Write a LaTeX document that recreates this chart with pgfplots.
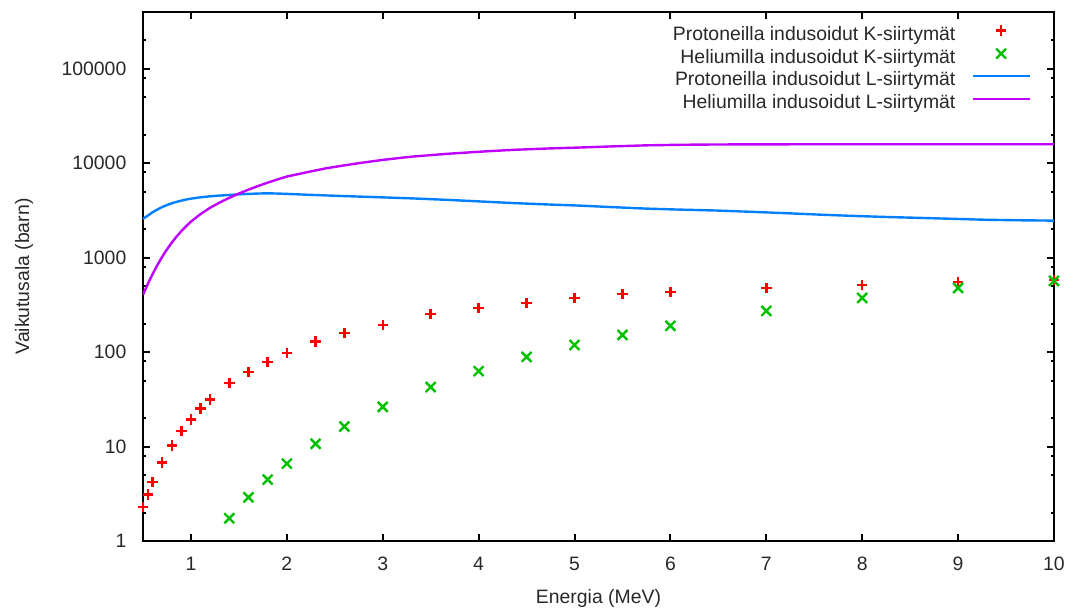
\documentclass[border=0pt]{standalone}
\usepackage{fontspec}
\setmainfont{Liberation Sans}
\usepackage{pgfplots}
\pgfplotsset{compat=1.18}
\definecolor{gpred}{RGB}{255,0,0}
\definecolor{gpgreen}{RGB}{0,192,0}
\definecolor{gpblue}{RGB}{0,128,255}
\definecolor{gppurple}{RGB}{192,0,255}
\definecolor{txt}{RGB}{40,40,40}
\pgfplotsset{
  markleg/.style={legend image code/.code={\draw[mark repeat=2,mark phase=2,##1] plot coordinates {(0pt,2.5pt) (14.25pt,2.5pt) (28.5pt,2.5pt)};}},
  lineleg/.style={legend image code/.code={\draw[##1] (0pt,2.5pt) -- (28.5pt,2.5pt);}},
}
\begin{document}
\fontsize{9.7}{11.6}\selectfont
\begin{tikzpicture}
\useasboundingbox (-71.5pt,-34pt) rectangle (461pt,270.5pt);
\begin{axis}[
  at={(0,0)}, anchor=south west,
  scale only axis, width=455.5pt, height=264.5pt,
  ymode=log, xmin=0.5, xmax=10, ymin=1, ymax=400000,
  xtick={1,2,3,4,5,6,7,8,9,10},
  xticklabels={1,2,3,4,5,6,7,8,9,10},
  ytick={1,10,100,1000,10000,100000},
  yticklabels={1,10,100,1000,10000,100000},
  minor ytick={2,5,8,20,50,80,200,500,800,2000,5000,8000,20000,50000,80000,200000},
  /pgf/number format/assume math mode=true,
  tick align=inside,
  major tick length=3.4pt, minor tick length=1.7pt,
  every tick/.style={black, line width=1pt},
  axis line style={black, line width=1pt},
  tick label style={font=\fontsize{9.7}{11.6}\selectfont, text=txt},
  xticklabel style={yshift=-4.6pt},
  yticklabel style={xshift=-4.9pt},
  xlabel={Energia (MeV)},
  ylabel={Vaikutusala (barn)},
  label style={font=\fontsize{9.7}{11.6}\selectfont, text=txt},
  xlabel style={at={(axis description cs:0.5,-0.1191)}, anchor=base},
  ylabel style={at={(axis description cs:-0.1251,0.5)}, anchor=base},
  legend plot pos=right,
  legend cell align=right,
  legend style={draw=none, fill=none, at={(axis description cs:0.975,0.9755)}, anchor=north east,
    inner sep=0pt, column sep=8pt, row sep=1.8pt,
    nodes={inner sep=0pt, text height=7pt, text depth=2.5pt, text=txt, font=\fontsize{9.7}{11.6}\selectfont}},
]
\addplot[only marks, mark=+, mark size=2.6pt, gpred, line width=1.2pt, markleg]
  coordinates {
  (0.5,2.3) (0.55,3.1) (0.6,4.2) (0.7,6.8) (0.8,10.3) (0.9,14.7) (1.0,19.4)
  (1.1,25.2) (1.2,31.5) (1.4,46.8) (1.6,62) (1.8,79) (2.0,98) (2.3,129)
  (2.6,159) (3.0,194) (3.5,254) (4.0,295) (4.5,332) (5.0,375) (5.5,414)
  (6.0,435) (7.0,478) (8.0,515) (9.0,550) (10,582)
  };
\addlegendentry{Protoneilla indusoidut K-siirtymät}
\addplot[only marks, mark=x, mark size=3.5pt, gpgreen, line width=1.2pt, markleg]
  coordinates {
  (1.4,1.74) (1.6,2.9) (1.8,4.47) (2.0,6.6) (2.3,10.7) (2.6,16.3) (3.0,26.3)
  (3.5,42.7) (4.0,63) (4.5,89) (5.0,119) (5.5,152) (6.0,190) (7.0,273)
  (8.0,375) (9.0,478) (10,568)
  };
\addlegendentry{Heliumilla indusoidut K-siirtymät}
\addplot[gpblue, line width=1.2pt, lineleg] coordinates {
  (0.5,2580) (0.55,2790) (0.6,3030) (0.65,3240) (0.7,3440) (0.75,3610) (0.8,3770)
  (0.85,3900) (0.9,4020) (0.95,4130) (1.0,4220) (1.1,4360) (1.2,4470) (1.3,4550)
  (1.4,4620) (1.5,4690) (1.6,4740) (1.7,4780) (1.8,4810) (1.9,4780)
  (2.0,4740) (2.2,4650) (2.55,4510) (2.9,4390) (3.3,4250) (3.67,4100)
  (4.0,3950) (4.36,3790) (4.7,3670) (5.06,3560) (5.4,3430) (5.75,3310)
  (6.1,3230) (6.48,3160) (6.85,3060) (7.21,2960) (7.55,2860) (7.91,2770)
  (8.25,2700) (8.6,2640) (8.95,2580) (9.3,2520) (9.65,2490) (10,2470)
  };
\addlegendentry{Protoneilla indusoidut L-siirtymät}
\addplot[gppurple, line width=1.2pt, lineleg] coordinates {
  (0.5,405) (0.55,527) (0.6,671) (0.65,837) (0.7,1022) (0.75,1225) (0.8,1444)
  (0.85,1674) (0.9,1913) (0.95,2159) (1.0,2408) (1.1,2902) (1.2,3379)
  (1.3,3843) (1.4,4308) (1.5,4778) (1.6,5258) (1.7,5743) (1.8,6237)
  (1.9,6736) (2.0,7234) (2.2,8000) (2.4,8810) (2.6,9510) (2.8,10190)
  (3.0,10860) (3.3,11750) (3.67,12590) (4.0,13240) (4.36,13870) (4.7,14320)
  (5.06,14690) (5.4,15100) (5.75,15490) (6.1,15700) (6.48,15810) (7.0,15880)
  (8,15900) (10,15900)
  };
\addlegendentry{Heliumilla indusoidut L-siirtymät}
\end{axis}
\end{tikzpicture}
\end{document}
